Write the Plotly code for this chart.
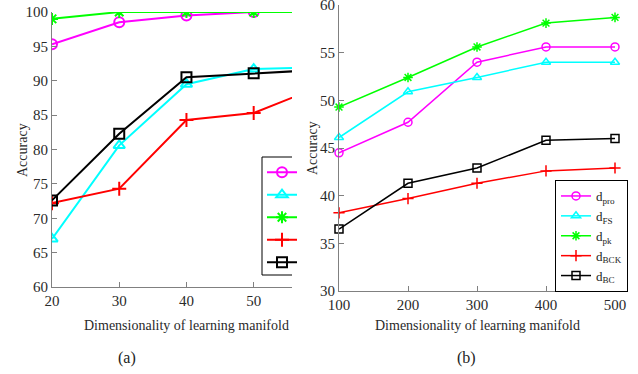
import plotly.graph_objects as go

# ---- data (a)
dims_a = [20, 30, 40, 50, 60]
pro_a = [95.3, 98.5, 99.5, 100.0, 100.0]
fs_a = [67.0, 80.6, 89.5, 91.7, 92.0]
pk_a = [99.0, 100.0, 100.0, 100.0, 100.0]
bck_a = [72.2, 74.3, 84.3, 85.3, 89.2]
bc_a = [72.6, 82.3, 90.5, 91.1, 91.6]

# ---- data (b)
dims_b = [100, 200, 300, 400, 500]
pro_b = [44.5, 47.7, 54.0, 55.6, 55.6]
fs_b = [46.1, 50.9, 52.4, 54.0, 54.0]
pk_b = [49.3, 52.4, 55.6, 58.1, 58.7]
bck_b = [38.2, 39.7, 41.3, 42.6, 42.9]
bc_b = [36.5, 41.3, 42.9, 45.8, 46.0]

names = ["d<sub>pro</sub>", "d<sub>FS</sub>", "d<sub>pk</sub>", "d<sub>BCK</sub>", "d<sub>BC</sub>"]
colors = ["#ff00ff", "#00ffff", "#00ff00", "#ff0000", "#000000"]
symbols = ["circle-open", "triangle-up-open", "asterisk-open", "cross-thin-open", "square-open"]

W, H = 638, 374
def px(x):
    return x / W
def py(y):
    return 1 - y / H

fig = go.Figure()
series_a = [pro_a, fs_a, pk_a, bck_a, bc_a]
series_b = [pro_b, fs_b, pk_b, bck_b, bc_b]
for i in range(5):
    fig.add_trace(go.Scatter(
        x=dims_a, y=series_a[i], mode="lines+markers", name=" ",
        line=dict(color=colors[i], width=2),
        marker=dict(symbol=symbols[i], size=10, color=colors[i], line=dict(width=2, color=colors[i])),
        xaxis="x", yaxis="y", legend="legend2", cliponaxis=True))
for i in range(5):
    fig.add_trace(go.Scatter(
        x=dims_b, y=series_b[i], mode="lines+markers", name=names[i],
        line=dict(color=colors[i], width=1.5),
        marker=dict(symbol=symbols[i], size=8, color=colors[i], line=dict(width=1.5, color=colors[i])),
        xaxis="x2", yaxis="y2", legend="legend", cliponaxis=False))

tickfont = dict(family="Liberation Serif", size=15, color="#2a2a2a")
axcommon = dict(showline=True, linecolor="#808080", linewidth=1, ticks="inside",
                ticklen=5, tickcolor="#808080", showgrid=False, zeroline=False,
                tickfont=tickfont, mirror=False, automargin=False, ticklabeloverflow="allow")

fig.update_layout(
    width=W, height=H, margin=dict(l=0, r=0, t=0, b=0),
    plot_bgcolor="white", paper_bgcolor="white",
    xaxis=dict(domain=[px(52), px(292)], range=[20, 55.7], tickvals=[20, 30, 40, 50],
               anchor="y", **axcommon),
    yaxis=dict(domain=[py(287), py(12)], range=[60, 100], tickvals=list(range(60, 101, 5)),
               anchor="x", **axcommon),
    xaxis2=dict(domain=[px(339), px(615)], range=[100, 500], tickvals=[100, 200, 300, 400, 500],
                anchor="y2", **axcommon),
    yaxis2=dict(domain=[py(291), py(5)], range=[30, 60], tickvals=list(range(30, 61, 5)),
                anchor="x2", **axcommon),
    legend=dict(x=px(555), y=py(180), xanchor="left", yanchor="top",
                bordercolor="#000000", borderwidth=1, bgcolor="white",
                font=dict(family="Liberation Serif", size=13, color="#222222"),
                itemwidth=30, tracegroupgap=0),
    legend2=dict(x=px(262), y=py(156), xanchor="left", yanchor="top",
                 bordercolor="rgba(0,0,0,0)", borderwidth=0, bgcolor="rgba(0,0,0,0)",
                 font=dict(family="Liberation Serif", size=15, color="#222222"),
                 itemwidth=30, tracegroupgap=0),
    showlegend=True,
)

# clipped legend frame for panel (a)
fig.add_shape(type="path", xref="paper", yref="paper",
              path=f"M {px(292)},{py(157)} L {px(262)},{py(157)} L {px(262)},{py(275)} L {px(292)},{py(275)}",
              line=dict(color="#000000", width=1), fillcolor="white", layer="above")

txt = dict(family="Liberation Serif", size=14, color="#2a2a2a")
ann = dict(xref="paper", yref="paper", showarrow=False, xanchor="center", yanchor="middle")
fig.add_annotation(text="Dimensionality of learning manifold", x=px(186), y=py(325), font=txt, **ann)
fig.add_annotation(text="Dimensionality of learning manifold", x=px(477), y=py(325), font=txt, **ann)
fig.add_annotation(text="Accuracy", x=px(22), y=py(150), textangle=-90, font=txt, **ann)
fig.add_annotation(text="Accuracy", x=px(312), y=py(148), textangle=-90, font=txt, **ann)
fig.add_annotation(text="(a)", x=px(127), y=py(358),
                   font=dict(family="Liberation Serif", size=16, color="#222222"), **ann)
fig.add_annotation(text="(b)", x=px(466), y=py(358),
                   font=dict(family="Liberation Serif", size=16, color="#222222"), **ann)

fig.write_html("out.html", config={"displayModeBar": False},
               post_script="document.body.style.margin='0';document.body.style.overflow='hidden';")
